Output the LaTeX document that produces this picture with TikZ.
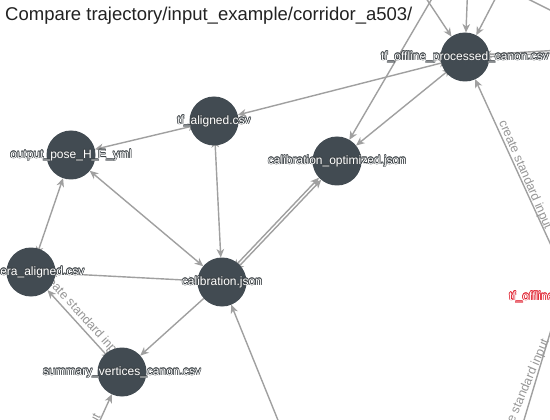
\documentclass[tikz,border=0pt]{standalone}
\usepackage{fontspec}
\setmainfont{Liberation Sans}
\usetikzlibrary{arrows.meta}
\definecolor{nodefill}{RGB}{66,75,82}
\definecolor{edgegray}{RGB}{160,160,160}
\definecolor{labgray}{RGB}{150,150,150}
\definecolor{outl}{RGB}{62,68,72}
\definecolor{redl}{RGB}{225,30,45}
\definecolor{titlecol}{RGB}{34,34,34}
\newcommand\halo[3]{{\setbox0=\hbox{#3}%
\leavevmode
\rlap{\color{#1}\kern0.6pt\copy0}%
\rlap{\color{#1}\kern-0.6pt\copy0}%
\rlap{\color{#1}\raise0.6pt\copy0}%
\rlap{\color{#1}\lower0.6pt\copy0}%
\rlap{\color{#1}\kern0.45pt\raise0.45pt\copy0}%
\rlap{\color{#1}\kern-0.45pt\raise0.45pt\copy0}%
\rlap{\color{#1}\kern0.45pt\lower0.45pt\copy0}%
\rlap{\color{#1}\kern-0.45pt\lower0.45pt\copy0}%
{\color{#2}\copy0}}}
\begin{document}
\begin{tikzpicture}[x=1pt,y=-1pt,
  >={Stealth[length=8.5pt,width=7.5pt,inset=2.5pt]},
  vtx/.style={circle, minimum size=49pt, inner sep=0pt, outer sep=0pt},
  edge/.style={draw=edgegray, line width=1.4pt, ->},
  tedge/.style={draw=edgegray, line width=1.4pt, <->, shorten <=-6.5pt},
  dedge/.style={draw=edgegray, line width=1.4pt, <->},
  tailonly/.style={draw=edgegray, line width=1.4pt, <-, shorten <=-6.5pt},
  plainedge/.style={draw=edgegray, line width=1.4pt},
  lab/.style={font=\fontsize{12}{14}\selectfont, inner sep=0pt},
  elab/.style={font=\fontsize{12.5}{14}\selectfont, text=labgray, inner sep=0pt},
]
\useasboundingbox (0,0) rectangle (550,420);
\clip (0,0) rectangle (550,420);
\fill[white] (0,0) rectangle (550,420);

% vertices
\node[vtx] (tfoff) at (465,57) {};
\node[vtx] (tfal) at (214,121) {};
\node[vtx] (outp) at (71,155) {};
\node[vtx] (calopt) at (337,161) {};
\node[vtx] (camal) at (31,272) {};
\node[vtx] (calib) at (222,282) {};
\node[vtx] (summ) at (122,372) {};

% off-screen ends
\coordinate (redn) at (576,300);
\coordinate (br) at (518,440);
\coordinate (brt) at (560,300);
\coordinate (t1) at (437,-10);
\coordinate (t2) at (414,-20);
\coordinate (t3) at (468,-20);
\coordinate (t4) at (505,-20);
\coordinate (t5a) at (520,-5);
\coordinate (t5b) at (570,20);
\coordinate (rt) at (580,50);
\coordinate (b1) at (91,440);
\coordinate (b2) at (286,440);

% edges
\draw[tedge] (tfoff) -- (tfal);
\draw[tedge] (tfal) -- (outp);
\draw[tedge] (tfoff) -- (calopt);
\draw[edge] (t1) -- (calopt);
\draw[tedge] (tfal) -- (calib);
\draw[dedge] (outp) -- (calib);
\draw[tedge] (camal) -- (outp);
\draw[tedge] (camal) -- (calib);
\draw[tedge] (summ) -- (camal);
\draw[edge] (calib) -- (summ);
\draw[edge] (b1) -- (summ);
\draw[edge] (b2) -- (calib);
\draw[tedge, transform canvas={shift={(1.1pt,-1.05pt)}}] (calib) -- (calopt);
\draw[tedge, transform canvas={shift={(-1.1pt,1.05pt)}}] (calib) -- (calopt);
\draw[edge] (redn) -- (tfoff);
\draw[plainedge] (br) -- (brt);
\draw[edge] (t2) -- (tfoff);
\draw[edge] (t3) -- (tfoff);
\draw[edge] (t4) -- (tfoff);
\draw[plainedge] (t5a) -- (t5b);
\draw[tailonly, transform canvas={shift={(0pt,1.2pt)}}] (tfoff) -- (rt);
\draw[tailonly, transform canvas={shift={(0pt,-1.2pt)}}] (tfoff) -- (rt);

% edge labels
\node[elab, rotate=-47.7] at (82,316) {create standard input};
\node[elab, rotate=-66.7] at (525,175) {create standard input};
\node[elab, rotate=67] at (523,394) {create standard input};
\node[elab, rotate=62, anchor=east] at (98,415) {create standard input};

% circles
\foreach \n in {tfoff,tfal,outp,calopt,camal,calib,summ}
  \fill[nodefill] (\n) circle (24.5pt);

% vertex labels
\node[lab] at (tfoff) {\halo{outl}{white}{tf\_offline\_processed\_canon.csv}};
\node[lab] at (tfal) {\halo{outl}{white}{tf\_aligned.csv}};
\node[lab] at (outp) {\halo{outl}{white}{output\_pose\_H\_E\_yml}};
\node[lab] at (calopt) {\halo{outl}{white}{calibration\_optimized.json}};
\node[lab] at (camal) {\halo{outl}{white}{camera\_aligned.csv}};
\node[lab] at (calib) {\halo{outl}{white}{calibration.json}};
\node[lab] at (summ) {\halo{outl}{white}{summary\_vertices\_canon.csv}};
\node[lab, anchor=west] at (509,297) {\halo{redl}{white}{tf\_offline}};

% title
\node[anchor=base west, inner sep=0pt, text=titlecol, font=\fontsize{18.5}{22}\selectfont] at (5,21) {Compare trajectory/input\_example/corridor\_a503/};
\end{tikzpicture}
\end{document}
